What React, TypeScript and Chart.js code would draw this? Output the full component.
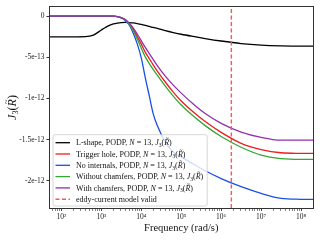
import { useEffect, useRef } from 'react';
import { Chart, registerables } from 'chart.js';

Chart.register(...registerables);

// ---- data ----
const UNIT = 1e-13;
const frequencies = [
  50.1, 100, 200, 398, 631, 1000, 1259, 1585, 1995, 2512, 3162, 3981, 5012, 6310, 7943,
  10000, 12589, 15849, 19953, 25119, 39811, 63096, 1e5, 2e5, 3.98e5, 1e6, 3.16e6, 1e7,
  3.16e7, 1e8, 2e8,
];
const lShape = [
  -2.51, -2.51, -2.51, -2.49, -2.3, -1.68, -1.38, -1.12, -0.95, -0.85, -0.79, -0.77, -0.78,
  -0.82, -0.9, -1.0, -1.12, -1.25, -1.38, -1.5, -1.76, -1.99, -2.2, -2.47, -2.72, -3.02,
  -3.33, -3.52, -3.61, -3.64, -3.65,
];
const triggerHole = [
  0, 0, 0, 0, 0, 0, 0, 0, 0, -0.05, -0.2, -0.45, -0.95, -1.6, -2.5, -3.4, -4.4, -5.16,
  -5.95, -6.68, -8.0, -9.23, -10.32, -11.66, -12.81, -14.12, -15.45, -16.21, -16.6, -16.67,
  -16.68,
];
const noInternals = [
  0, 0, 0, 0, 0, 0, 0, 0, 0, -0.05, -0.2, -0.55, -1.1, -2.1, -3.4, -5.1, -7.5, -9.7, -11.9,
  -13.3, -15.3, -16.5, -17.1, -17.97, -18.78, -19.73, -20.72, -21.53, -22.14, -22.25, -22.27,
];
const withoutChamfers = [
  0, 0, 0, 0, 0, 0, 0, 0, 0, -0.05, -0.2, -0.5, -1.05, -1.8, -2.8, -3.9, -4.95, -5.77, -6.5,
  -7.16, -8.5, -9.71, -10.8, -12.14, -13.3, -14.63, -15.93, -16.88, -17.3, -17.4, -17.4,
];
const withChamfers = [
  0, 0, 0, 0, 0, 0, 0, 0, 0, -0.05, -0.2, -0.4, -0.85, -1.45, -2.2, -3.0, -3.8, -4.55, -5.28,
  -6.01, -7.29, -8.38, -9.35, -10.68, -11.84, -13.03, -14.09, -14.73, -15.06, -15.06, -15.06,
];
const seriesNames = ['L-shape', 'Trigger hole', 'No internals', 'Without chamfers', 'With chamfers'];
const seriesValues = [lShape, triggerHole, noInternals, withoutChamfers, withChamfers];
const seriesColors = ['#000000', '#ee1c1c', '#1a4fe8', '#35a535', '#9430b0'];
const eddyLabel = 'eddy-current model valid';
const EDDY_LIMIT = 1.8e6;
const EDDY_COLOR = '#ff5252';

const X_MIN = 50.12;
const X_MAX = 1.995e8;
const Y_MIN = -2.331e-12;
const Y_MAX = 1.11e-13;
const Y_STEP = 5e-13;
const yTickLabels = ['0', '-5e-13', '-1e-12', '-1.5e-12', '-2e-12'];
const xTickExponents = [2, 3, 4, 5, 6, 7, 8];
const xTickLabels = ['10²', '10³', '10⁴', '10⁵', '10⁶', '10⁷', '10⁸'];

const FONT = "'Liberation Serif', 'DejaVu Serif', serif";

type Seg = { t: string; i?: boolean; sub?: boolean; tilde?: boolean };

function mathSegs(name: string): Seg[] {
  return [
    { t: name + ', PODP, ' },
    { t: 'N', i: true },
    { t: ' = 13, ' },
    { t: 'J', i: true },
    { t: '3', sub: true },
    { t: '(' },
    { t: 'R', i: true, tilde: true },
    { t: ')' },
  ];
}

function drawSegs(ctx: CanvasRenderingContext2D, segs: Seg[], x: number, y: number, size: number, measureOnly = false) {
  let cx = x;
  for (const s of segs) {
    const sz = s.sub ? size * 0.7 : size;
    ctx.font = `${s.i ? 'italic ' : ''}${sz}px ${FONT}`;
    const w = ctx.measureText(s.t).width;
    if (!measureOnly) {
      ctx.fillText(s.t, cx, y + (s.sub ? size * 0.2 : 0));
      if (s.tilde) {
        const ts = size * 0.7;
        ctx.font = `${ts}px ${FONT}`;
        const tw = ctx.measureText('~').width;
        ctx.fillText('~', cx + w / 2 - tw / 2 + size * 0.08, y - size * 0.62);
      }
    }
    cx += w;
  }
  return cx - x;
}

const decorPlugin = {
  id: 'decor',
  afterDatasetsDraw(chart: any) {
    const { ctx, chartArea: ca } = chart;
    ctx.save();
    ctx.strokeStyle = '#333';
    ctx.lineWidth = 1;
    const l = Math.round(ca.left) - 0.5;
    const r = Math.round(ca.right) + 0.5;
    const t = Math.round(ca.top) - 0.5;
    const b = Math.round(ca.bottom) + 0.5;
    ctx.strokeRect(l, t, r - l, b - t);
    ctx.restore();
  },
  afterDraw(chart: any) {
    const { ctx, chartArea: ca } = chart;
    ctx.save();
    ctx.textBaseline = 'alphabetic';
    ctx.textAlign = 'left';
    // legend
    const size = 8;
    const rows: { segs: Seg[]; color: string; dash: boolean }[] = seriesNames.map((n, k) => ({
      segs: mathSegs(n),
      color: seriesColors[k],
      dash: false,
    }));
    rows.push({ segs: [{ t: eddyLabel }], color: EDDY_COLOR, dash: true });
    let maxW = 0;
    for (const r of rows) maxW = Math.max(maxW, drawSegs(ctx, r.segs, 0, 0, size, true));
    const rowH = 11.3;
    const boxL = ca.left + 3.5;
    const boxB = ca.bottom - 2;
    const boxH = rows.length * rowH + 3.5;
    const boxT = boxB - boxH;
    const boxW = 23 + maxW + 4;
    ctx.beginPath();
    (ctx as any).roundRect(boxL, boxT, boxW, boxH, 2);
    ctx.fillStyle = 'rgba(255,255,255,0.8)';
    ctx.fill();
    ctx.strokeStyle = '#cccccc';
    ctx.lineWidth = 0.8;
    ctx.stroke();
    rows.forEach((r, i) => {
      const cy = boxT + 8 + i * rowH;
      ctx.beginPath();
      ctx.strokeStyle = r.color;
      ctx.lineWidth = r.dash ? 1.4 : 1.3;
      ctx.setLineDash(r.dash ? [4, 2.5] : []);
      ctx.moveTo(boxL + 2.5, cy);
      ctx.lineTo(boxL + 17, cy);
      ctx.stroke();
      ctx.setLineDash([]);
      ctx.fillStyle = '#111';
      drawSegs(ctx, r.segs, boxL + 23, cy + size * 0.33, size);
    });
    // y title
    const ts = 12;
    const ySegs: Seg[] = [
      { t: 'J', i: true },
      { t: '3', sub: true },
      { t: '(' },
      { t: 'R', i: true, tilde: true },
      { t: ')' },
    ];
    ctx.translate(12, (ca.top + ca.bottom) / 2);
    ctx.rotate(-Math.PI / 2);
    const w = drawSegs(ctx, ySegs, 0, 0, ts, true);
    ctx.fillStyle = '#111';
    drawSegs(ctx, ySegs, -w / 2, ts * 0.33, ts);
    ctx.restore();
  },
};

function isNiceLog(v: number) {
  const e = Math.floor(Math.log10(v) + 1e-9);
  const m = v / Math.pow(10, e);
  return Math.abs(m - Math.round(m)) < 1e-6;
}

export default function App() {
  const ref = useRef<HTMLCanvasElement>(null);
  useEffect(() => {
    const canvas = ref.current;
    if (!canvas) return;
    const datasets: any[] = seriesNames.map((name, k) => ({
      label: `${name}, PODP, N = 13, J₃(R̃)`,
      data: frequencies.map((f, j) => ({ x: f, y: seriesValues[k][j] * UNIT })),
      borderColor: seriesColors[k],
      backgroundColor: seriesColors[k],
      borderWidth: 1.3,
      pointRadius: 0,
      cubicInterpolationMode: 'monotone',
      order: 10 - k,
    }));
    datasets.push({
      label: eddyLabel,
      data: [
        { x: EDDY_LIMIT, y: Y_MIN },
        { x: EDDY_LIMIT, y: Y_MAX },
      ],
      borderColor: EDDY_COLOR,
      borderDash: [4, 2.5],
      borderWidth: 1.4,
      pointRadius: 0,
      order: 0,
    });
    const chart = new Chart(canvas, {
      type: 'line',
      data: { datasets },
      options: {
        animation: false,
        responsive: false,
        layout: { padding: { left: 0, right: 7, top: 7, bottom: 0 } },
        plugins: { legend: { display: false }, tooltip: { enabled: false } },
        scales: {
          x: {
            type: 'logarithmic',
            min: X_MIN,
            max: X_MAX,
            border: { display: false },
            grid: {
              drawOnChartArea: false,
              tickLength: 3,
              tickColor: '#333',
              tickWidth: (c: any) => (c.tick && c.tick.major ? 0.9 : 0.6),
            },
            ticks: {
              autoSkip: false,
              maxRotation: 0,
              padding: 2,
              color: '#222',
              font: { family: FONT, size: 7.5 },
              callback: (v: any) => {
                const e = Math.log10(Number(v));
                const idx = xTickExponents.indexOf(Math.round(e));
                if (Math.abs(e - Math.round(e)) < 1e-9 && idx >= 0) return xTickLabels[idx];
                return '';
              },
            },
            afterBuildTicks: (s: any) => {
              s.ticks = s.ticks.filter((t: any) => isNiceLog(t.value));
            },
            afterFit: (s: any) => {
              s.height = 32;
            },
            title: {
              display: true,
              text: 'Frequency (rad/s)',
              color: '#111',
              font: { family: FONT, size: 10.5 },
              padding: { top: 0, bottom: 5.5 },
            },
          },
          y: {
            min: Y_MIN,
            max: Y_MAX,
            border: { display: false },
            grid: { drawOnChartArea: false, tickLength: 3, tickColor: '#333' },
            ticks: {
              stepSize: Y_STEP,
              includeBounds: false,
              padding: 2,
              color: '#222',
              font: { family: FONT, size: 7.5 },
              callback: (v: any) => {
                const idx = Math.round(-Number(v) / Y_STEP);
                return yTickLabels[idx] ?? '';
              },
            },
            afterFit: (s: any) => {
              s.width = 49.5;
            },
          },
        },
      } as any,
      plugins: [decorPlugin],
    });
    return () => chart.destroy();
  }, []);
  return (
    <div style={{ position: 'absolute', left: 0, top: 0, width: 320, height: 240 }}>
      <canvas ref={ref} width={320} height={240} style={{ display: 'block' }} />
    </div>
  );
}
